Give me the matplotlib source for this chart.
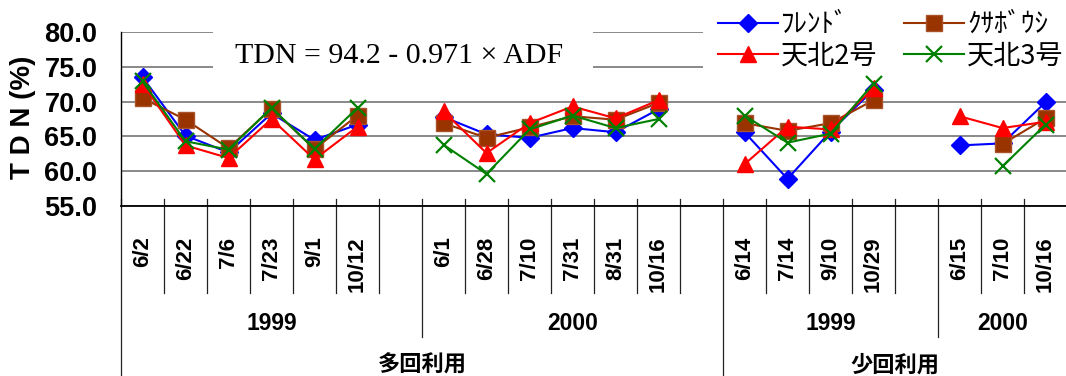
import numpy as np
import matplotlib
matplotlib.use("Agg")
import matplotlib.pyplot as plt
from matplotlib.patches import Rectangle

nan = np.nan

# Sampling dates (blank slots separate the year groups)
categories = ['6/2', '6/22', '7/6', '7/23', '9/1', '10/12', '',
              '6/1', '6/28', '7/10', '7/31', '8/31', '10/16', '',
              '6/14', '7/14', '9/10', '10/29', '',
              '6/15', '7/10', '10/16']

# TDN (%) per cultivar
friend = [73.5, 65.1, 62.7, 68.3, 64.5, 66.7, nan,
          67.8, 65.3, 64.8, 66.2, 65.6, 68.9, nan,
          65.6, 58.9, 65.7, 71.7, nan,
          63.7, 64.0, 69.9]
kusabooshi = [70.5, 67.4, 63.3, 69.0, 63.2, 68.0, nan,
              66.9, 64.8, 66.3, 67.9, 67.4, 69.8, nan,
              66.9, 65.8, 66.9, 70.2, nan,
              nan, 63.9, 67.6]
tenpoku2 = [72.6, 63.7, 61.9, 67.5, 61.7, 66.4, nan,
            68.6, 62.6, 66.9, 69.3, 67.6, 70.2, nan,
            61.0, 66.4, 66.0, 71.9, nan,
            67.9, 66.2, 67.1]
tenpoku3 = [72.9, 64.3, 63.1, 69.1, 63.2, 69.1, nan,
            63.8, 59.6, 66.0, 68.0, 66.2, 67.5, nan,
            68.0, 64.1, 65.4, 72.6, nan,
            nan, 60.7, 66.7]

series_names = ['ﾌﾚﾝﾄﾞ', 'ｸｻﾎﾞｳｼ', '天北2号', '天北3号']

# Year groups: (label, first index, last index)
year_groups = [('1999', 0, 6), ('2000', 7, 13), ('1999', 14, 18), ('2000', 19, 21)]
# Utilisation groups
use_groups = [('多回利用', 0, 13), ('少回利用', 14, 21)]

y_ticks = [55, 60, 65, 70, 75, 80]

W, H = 1066, 376
fig = plt.figure(figsize=(W / 100, H / 100), dpi=100)
ax_l, ax_r, ax_t, ax_b = 121, 1067, 32, 206
ax = fig.add_axes([ax_l / W, (H - ax_b) / H, (ax_r - ax_l) / W, (ax_b - ax_t) / H])

x = np.arange(len(categories))
ax.set_xlim(-0.5, len(categories) - 0.5)
ax.set_ylim(55, 80)

tick_font = dict(family='Liberation Sans', weight='bold')
cjk = ['Noto Sans CJK JP', 'DejaVu Sans']

# Series
styles = [
    (friend, dict(color='#0000ff', marker='D', ms=9, mfc='#0000ff', mec='#0000ff')),
    (kusabooshi, dict(color='#993300', marker='s', ms=12, mfc='#993300', mec='#a8532b')),
    (tenpoku2, dict(color='#ff0000', marker='^', ms=12, mfc='#ff0000', mec='#ff0000')),
    (tenpoku3, dict(color='#008000', marker='x', ms=12, mew=1.6)),
]
handles = []
for (vals, st), name in zip(styles, series_names):
    ln, = ax.plot(x, vals, lw=1.5, label=name, zorder=3, **st)
    handles.append(ln)

# Axes styling
for s in ('top', 'right'):
    ax.spines[s].set_visible(False)
ax.spines['left'].set_color('black')
ax.spines['left'].set_linewidth(1.0)
ax.spines['bottom'].set_color('black')
ax.spines['bottom'].set_linewidth(1.3)

ax.set_yticks(y_ticks)
ax.set_yticklabels([f'{v:.1f}' for v in y_ticks], fontsize=19.5, **tick_font)
ax.yaxis.grid(True, color='#808080', lw=1.3)
ax.set_axisbelow(True)
ax.tick_params(axis='y', length=0, pad=17)

ax.set_xticks(x)
ax.set_xticklabels(categories, rotation=90, fontsize=16, va='top', **tick_font)
ax.tick_params(axis='x', length=0, pad=22)

ax.set_ylabel('T D N (%)', fontsize=20, fontweight='bold', family='Liberation Sans')
ax.yaxis.set_label_coords((36 - ax_l) / (ax_r - ax_l), (ax_b - 117) / (ax_b - ax_t))

# Category dividers below the axis
def frac(py):
    return (ax_b - py) / (ax_b - ax_t)

trans = ax.get_xaxis_transform()
year_bounds = {g[1] - 0.5 for g in year_groups}
use_bounds = {g[1] - 0.5 for g in use_groups}
for b in np.arange(-0.5, len(categories) - 0.5, 1.0):
    if b in use_bounds:
        y_end = frac(H + 2)
    elif b in year_bounds:
        y_end = frac(337)
    else:
        y_end = frac(293)
    ax.plot([b, b], [frac(199), y_end], color='#222222', lw=0.9,
            transform=trans, clip_on=False, zorder=2)

for label, i0, i1 in year_groups:
    ax.text((i0 + i1) / 2, frac(323), label, transform=trans, ha='center',
            va='center', fontsize=16.5, **tick_font)
for label, i0, i1 in use_groups:
    ax.text((i0 + i1) / 2, frac(365), label, transform=trans, ha='center',
            va='center', fontsize=16, fontweight='bold', family=cjk)

# White panels behind the formula and the legend
fig.patches.append(Rectangle((213 / W, 1 - 74 / H), (593 - 213) / W, 52 / H,
                             transform=fig.transFigure, facecolor='white',
                             edgecolor='none', zorder=5))
fig.patches.append(Rectangle((703 / W, 1 - 74 / H), (W - 703) / W, 74 / H,
                             transform=fig.transFigure, facecolor='white',
                             edgecolor='none', zorder=5))

fig.text(399 / W, 1 - 56 / H, 'TDN = 94.2 - 0.971 × ADF', ha='center',
         va='center', fontsize=21.5, family='Liberation Serif', zorder=6)

order = [0, 2, 1, 3]
leg = fig.legend([handles[i] for i in order], [series_names[i] for i in order],
                 ncol=2, loc='upper left', bbox_to_anchor=(718 / W, 1 - 11 / H),
                 frameon=False, prop=dict(family=cjk, size=19.5),
                 handlelength=2.2, handletextpad=0.12, columnspacing=1.0,
                 labelspacing=0.16, borderpad=0, borderaxespad=0)
leg.set_zorder(7)

fig.savefig('out.png', dpi=100)
